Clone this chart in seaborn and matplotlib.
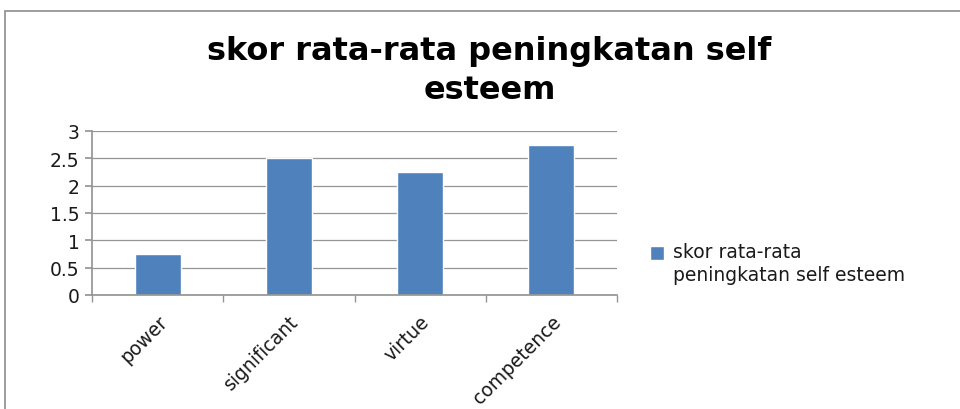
import matplotlib
matplotlib.use("Agg")
import matplotlib.pyplot as plt
import seaborn as sns
import numpy as np
from matplotlib.patches import Rectangle
from matplotlib.legend_handler import HandlerPatch
from matplotlib.container import BarContainer

categories = ["power", "significant", "virtue", "competence"]
values = [0.75, 2.5, 2.25, 2.75]
series_name = "skor rata-rata\npeningkatan self esteem"
title = "skor rata-rata peningkatan self\nesteem"
yticks = [0, 0.5, 1, 1.5, 2, 2.5, 3]
ytick_labels = ["0", "0.5", "1", "1.5", "2", "2.5", "3"]

sns.set_theme(style="white")
plt.rcParams["font.family"] = ["DejaVu Sans"]

fig = plt.figure(figsize=(9.6, 4.1), dpi=100)
ax = fig.add_axes([92/960, 1-296/410, (617-92)/960, (296-132)/410])

sns.barplot(x=categories, y=values, color="#4F81BD", width=0.35,
            saturation=1, label=series_name, ax=ax)

ax.set_ylim(0, 3)
ax.set_xlim(-0.5, 3.5)
ax.set_yticks(yticks)
ax.set_yticklabels(ytick_labels, fontsize=13.5, color="#1a1a1a")
ax.yaxis.grid(True, color="#959595", linewidth=0.9)
ax.set_axisbelow(True)
for s in ["top", "right"]:
    ax.spines[s].set_visible(False)
ax.spines["left"].set_color("#959595")
ax.spines["bottom"].set_color("#959595")
ax.tick_params(axis="y", which="major", left=True, length=5, color="#959595", pad=4)
ax.set_xticks(range(len(categories)))
ax.set_xticklabels(categories, rotation=45, ha="right", rotation_mode="anchor",
                   fontsize=13.5, color="#1a1a1a")
ax.tick_params(axis="x", which="major", length=0, pad=12)
ax.set_xticks(np.arange(-0.5, 3.6, 1.0), minor=True)
ax.tick_params(axis="x", which="minor", bottom=True, length=5, color="#959595")
ax.set_xlabel("")
ax.set_ylabel("")

fig.text(0.51, 1-71/410, title, ha="center", va="center", fontsize=23,
         fontweight="bold", linespacing=1.3, color="#000000")


def top_square(legend, orig_handle, xdescent, ydescent, width, height, fontsize):
    return Rectangle((-xdescent, -ydescent + 0.6 * fontsize), width, height)


def first_child(legend_handle, orig_handle):
    src = orig_handle[0] if isinstance(orig_handle, BarContainer) else orig_handle
    legend_handle.update_from(src)


handler = HandlerPatch(patch_func=top_square, update_func=first_child)
leg = ax.legend(loc="center left", bbox_to_anchor=(650/960, 1-264/410),
                bbox_transform=fig.transFigure, frameon=False, fontsize=13.5,
                handlelength=0.75, handleheight=0.75, handletextpad=0.5,
                borderaxespad=0, borderpad=0,
                handler_map={BarContainer: handler, Rectangle: handler})
for t in leg.get_texts():
    t.set_linespacing(1.3)
    t.set_color("#1a1a1a")

fig.patches.append(Rectangle((5/960, -0.05), 1.2, 1-12/410+0.05,
                             transform=fig.transFigure, fill=False,
                             edgecolor="#8c8c8c", linewidth=1.2))

fig.savefig("out.png", dpi=100)
